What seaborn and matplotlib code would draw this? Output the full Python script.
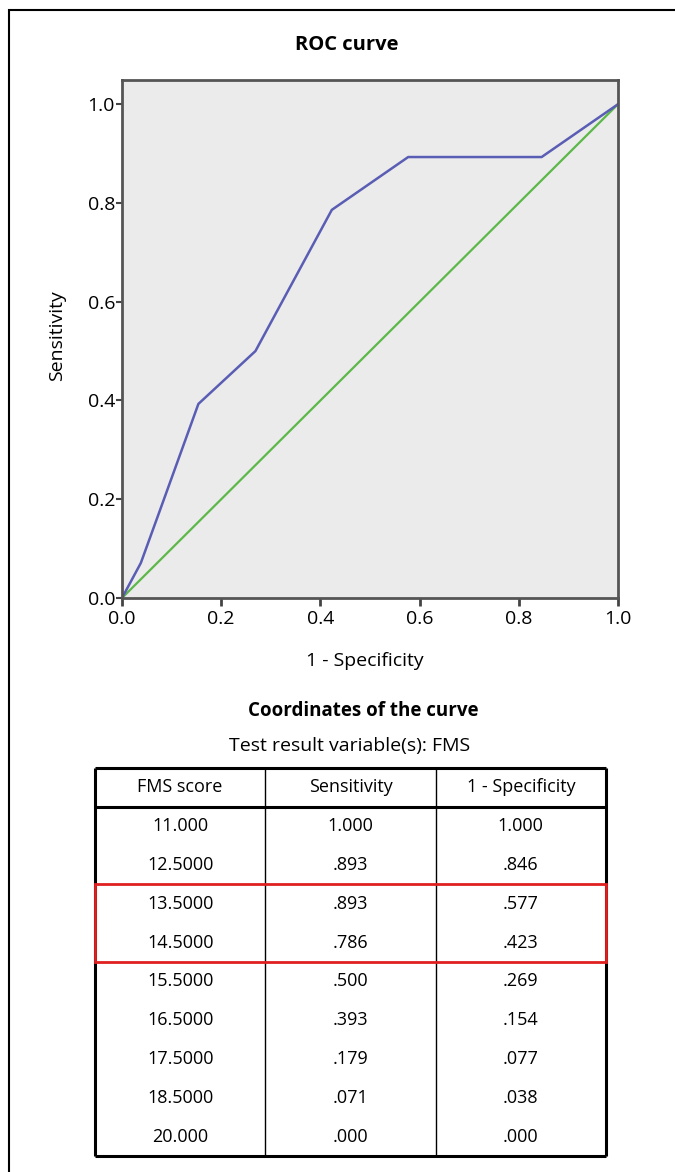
import numpy as np
import pandas as pd
import matplotlib
matplotlib.use("Agg")
import matplotlib.pyplot as plt
import seaborn as sns
from matplotlib.patches import Rectangle

# ROC coordinates
fms_score = ["11.000", "12.5000", "13.5000", "14.5000", "15.5000",
             "16.5000", "17.5000", "18.5000", "20.000"]
sensitivity = [1.000, 0.893, 0.893, 0.786, 0.500, 0.393, 0.179, 0.071, 0.000]
one_minus_spec = [1.000, 0.846, 0.577, 0.423, 0.269, 0.154, 0.077, 0.038, 0.000]
sens_labels = ["1.000", ".893", ".893", ".786", ".500", ".393", ".179", ".071", ".000"]
spec_labels = ["1.000", ".846", ".577", ".423", ".269", ".154", ".077", ".038", ".000"]
col_headers = ["FMS score", "Sensitivity", "1 - Specificity"]
highlight_rows = [2, 3]

ref_x = [0.0, 1.0]
ref_y = [0.0, 1.0]

sns.set_theme(style="white")
plt.rcParams['font.family'] = ['Open Sans', 'DejaVu Sans']
plt.rcParams['text.color'] = 'black'
plt.rcParams['xtick.labelcolor'] = 'black'
plt.rcParams['ytick.labelcolor'] = 'black'

W, H = 675, 1172
fig = plt.figure(figsize=(W / 100, H / 100), dpi=100)

def fx(px):
    return px / W

def fy(py):
    return 1 - py / H

# outer frame (top and left edges visible, rest cropped)
fig.add_artist(Rectangle((fx(9), fy(1200)), fx(700), fy(10) - fy(1200),
                         transform=fig.transFigure, fill=False,
                         edgecolor="black", linewidth=1.5))

# --- ROC plot ---
ax = fig.add_axes([fx(122), fy(598), fx(618) - fx(122), fy(80) - fy(598)])
ax.set_facecolor("#ebebeb")

roc = pd.DataFrame({"fpr": one_minus_spec[::-1], "tpr": sensitivity[::-1]})
ref = pd.DataFrame({"fpr": ref_x, "tpr": ref_y})
sns.lineplot(data=ref, x="fpr", y="tpr", ax=ax, color="#5cb848", linewidth=1.6,
             sort=False, estimator=None)
sns.lineplot(data=roc, x="fpr", y="tpr", ax=ax, color="#5a5db4", linewidth=1.8,
             sort=False, estimator=None)

ax.set_xlim(0, 1)
ax.set_ylim(0, 1.049)
ticks = [0.0, 0.2, 0.4, 0.6, 0.8, 1.0]
ax.set_xticks(ticks)
ax.set_yticks(ticks)
ax.set_xticklabels([f"{t:.1f}" for t in ticks], fontsize=14)
ax.set_yticklabels([f"{t:.1f}" for t in ticks], fontsize=14)
ax.tick_params(axis="x", direction="out", length=6, width=2, color="#444444", pad=3, bottom=True)
ax.tick_params(axis="y", direction="out", length=4, width=1.5, color="#444444", pad=1, left=True)
for sp in ax.spines.values():
    sp.set_visible(True)
    sp.set_color("#555555")
    sp.set_linewidth(2)
ax.set_xlabel("")
ax.set_ylabel("")

fig.text(fx(347), fy(45), "ROC curve", ha="center", va="center",
         fontsize=14.5, fontweight="bold")
fig.text(fx(57), fy(336), "Sensitivity", ha="center", va="center",
         rotation=90, fontsize=14)
fig.text(fx(365), fy(661), "1 - Specificity", ha="center", va="center", fontsize=14)
fig.text(fx(363), fy(711), "Coordinates of the curve", ha="center", va="center",
         fontsize=13.5, fontweight="bold")
fig.text(fx(350), fy(746), "Test result variable(s): FMS", ha="center", va="center",
         fontsize=14)

# --- coordinates table ---
tab = fig.add_axes([fx(95), fy(1156), fx(606) - fx(95), fy(768) - fy(1156)])
n_rows = len(fms_score) + 1
tab.set_xlim(0, 3)
tab.set_ylim(n_rows, 0)
tab.axis("off")

for j, h in enumerate(col_headers):
    tab.text(j + 0.5, 0.5, h, ha="center", va="center", fontsize=13)
columns = [fms_score, sens_labels, spec_labels]
for j, col in enumerate(columns):
    for i, v in enumerate(col):
        tab.text(j + 0.5, i + 1.5, v, ha="center", va="center", fontsize=13)

tab.vlines([1, 2], 0, n_rows, color="black", linewidth=1)
tab.hlines([0, 1, n_rows], 0, 3, color="black", linewidth=2.2, clip_on=False)
tab.vlines([0, 3], 0, n_rows, color="black", linewidth=2.2, clip_on=False)
r0, r1 = min(highlight_rows) + 1, max(highlight_rows) + 2
tab.add_patch(Rectangle((0, r0), 3, r1 - r0, fill=False, edgecolor="#e02020",
                        linewidth=2, clip_on=False, zorder=5))

fig.savefig("out.png", dpi=100)
